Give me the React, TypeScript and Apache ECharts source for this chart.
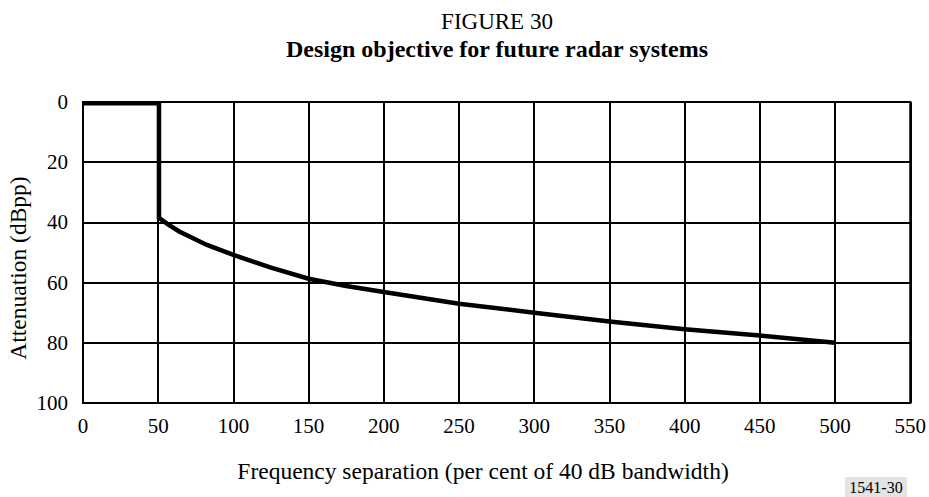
import React, { useEffect, useRef } from "react";
import * as echarts from "echarts";

const xTicks = [0, 50, 100, 150, 200, 250, 300, 350, 400, 450, 500, 550];
const yTicks = [0, 20, 40, 60, 80, 100];
const curveX = [0, 50.5, 50.5, 57, 64, 82, 100, 125, 150, 175, 200, 250, 300, 350, 400, 450, 500];
const curveY = [0.4, 0.4, 38.5, 40.8, 43, 47.4, 50.8, 55, 58.7, 61.1, 63.1, 67, 70, 72.9, 75.5, 77.6, 80];

const titleText = "FIGURE 30";
const subtitleText = "Design objective for future radar systems";
const xName = "Frequency separation (per cent of 40 dB bandwidth)";
const yName = "Attenuation (dBpp)";
const figId = "1541-30";

const FONT = "'Liberation Serif', 'Times New Roman', serif";

export default function App() {
  const ref = useRef<HTMLDivElement>(null);
  useEffect(() => {
    if (!ref.current) return;
    const chart = echarts.init(ref.current, undefined, { renderer: "svg" });
    const data = curveX.map((x, i) => [x, curveY[i]]);
    chart.setOption({
      animation: false,
      backgroundColor: "#ffffff",
      grid: {
        left: 83,
        top: 102,
        width: 831,
        height: 301,
        show: true,
        borderColor: "#000",
        borderWidth: 2,
        containLabel: false,
      },
      xAxis: {
        type: "value",
        min: xTicks[0],
        max: xTicks[xTicks.length - 1],
        interval: 50,
        axisLine: { show: false },
        axisTick: { show: false },
        splitLine: { show: true, lineStyle: { color: "#000", width: 2 } },
        axisLabel: { color: "#000", fontFamily: FONT, fontSize: 21, margin: 12 },
      },
      yAxis: {
        type: "value",
        inverse: true,
        min: yTicks[0],
        max: yTicks[yTicks.length - 1],
        interval: 20,
        axisLine: { show: false },
        axisTick: { show: false },
        splitLine: { show: true, lineStyle: { color: "#000", width: 2 } },
        axisLabel: { color: "#000", fontFamily: FONT, fontSize: 21, margin: 15 },
      },
      series: [
        {
          type: "line",
          data,
          showSymbol: false,
          symbol: "none",
          clip: false,
          lineStyle: { color: "#000", width: 4.5, join: "miter", cap: "butt" },
        },
      ],
      graphic: [
        {
          type: "text",
          x: 497,
          y: 21,
          style: {
            text: titleText,
            font: `23px ${FONT}`,
            fill: "#000",
            align: "center",
            verticalAlign: "middle",
          },
        },
        {
          type: "text",
          x: 497,
          y: 49,
          style: {
            text: subtitleText,
            font: `bold 24px ${FONT}`,
            fill: "#000",
            align: "center",
            verticalAlign: "middle",
          },
        },
        {
          type: "text",
          x: 483,
          y: 471,
          style: {
            text: xName,
            font: `23.5px ${FONT}`,
            fill: "#000",
            align: "center",
            verticalAlign: "middle",
          },
        },
        {
          type: "text",
          x: 18,
          y: 268,
          rotation: Math.PI / 2,
          style: {
            text: yName,
            font: `23.5px ${FONT}`,
            fill: "#000",
            align: "center",
            verticalAlign: "middle",
          },
        },
        {
          type: "rect",
          shape: { x: 845, y: 477, width: 62, height: 20 },
          style: { fill: "#e4e4e4" },
        },
        {
          type: "text",
          x: 876,
          y: 487,
          style: {
            text: figId,
            font: `16px ${FONT}`,
            fill: "#000",
            align: "center",
            verticalAlign: "middle",
          },
        },
      ],
    });
    return () => chart.dispose();
  }, []);
  return <div ref={ref} style={{ width: 929, height: 497, position: "absolute", left: 0, top: 0 }} />;
}
